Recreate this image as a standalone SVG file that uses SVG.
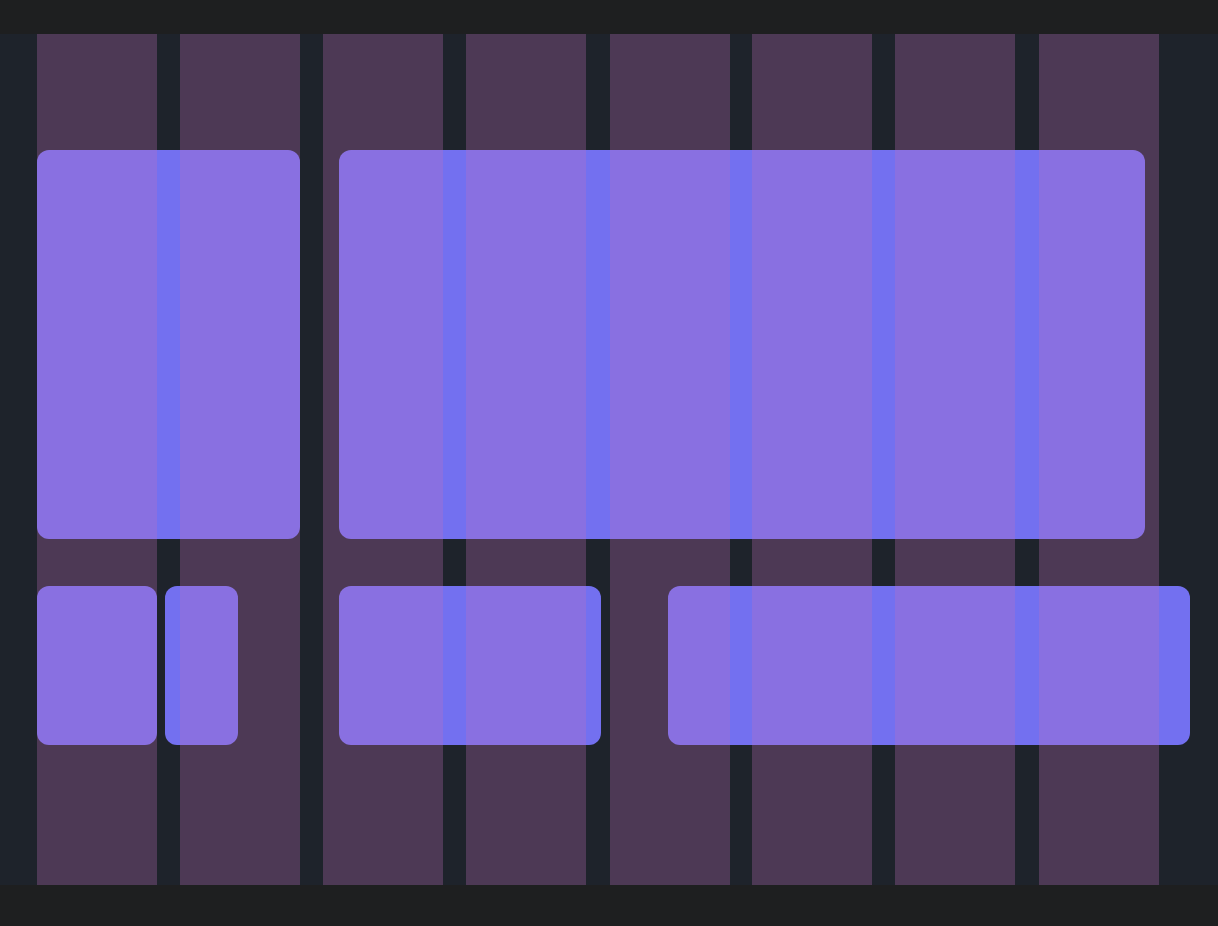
<svg xmlns="http://www.w3.org/2000/svg" width="1218" height="926" viewBox="0 0 1218 926">
  <style>
    .bar { fill: #1e1f20; }
    .bg { fill: #1e232b; }
    .item { fill: #7370f0; }
    .col { fill: rgb(192,114,188); fill-opacity: 0.29; }
  </style>
  <rect class="bar" x="0" y="0" width="1218" height="926"/>
  <rect class="bg" x="0" y="34" width="1218" height="851"/>
  <g id="items">
    <rect id="item-1" class="item" x="37" y="150" width="263" height="389" rx="12"/>
    <rect id="item-2" class="item" x="339" y="150" width="806" height="389" rx="12"/>
    <rect id="item-3" class="item" x="37" y="586" width="120" height="159" rx="12"/>
    <rect id="item-4" class="item" x="165" y="586" width="73" height="159" rx="12"/>
    <rect id="item-5" class="item" x="339" y="586" width="262" height="159" rx="12"/>
    <rect id="item-6" class="item" x="668" y="586" width="522" height="159" rx="12"/>
  </g>
  <g id="grid-columns">
    <rect id="col-1" class="col" x="37" y="34" width="120" height="851"/>
    <rect id="col-2" class="col" x="180" y="34" width="120" height="851"/>
    <rect id="col-3" class="col" x="323" y="34" width="120" height="851"/>
    <rect id="col-4" class="col" x="466" y="34" width="120" height="851"/>
    <rect id="col-5" class="col" x="610" y="34" width="120" height="851"/>
    <rect id="col-6" class="col" x="752" y="34" width="120" height="851"/>
    <rect id="col-7" class="col" x="895" y="34" width="120" height="851"/>
    <rect id="col-8" class="col" x="1039" y="34" width="120" height="851"/>
  </g>
</svg>
